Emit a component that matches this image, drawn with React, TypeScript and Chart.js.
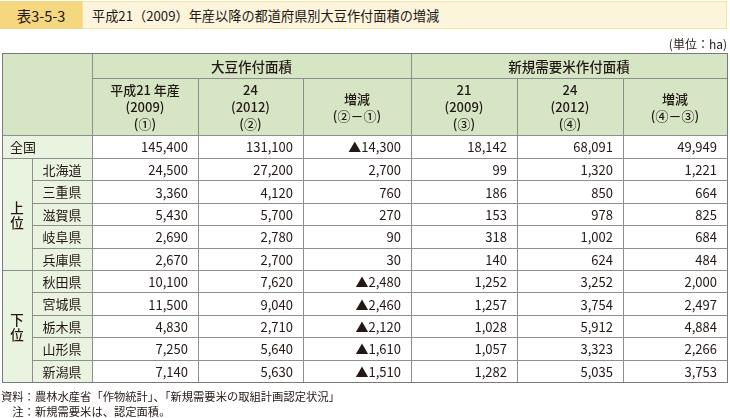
import React, { useEffect, useRef } from 'react';
import { Chart, registerables } from 'chart.js';

Chart.register(...registerables);

// ---------- data ----------
const prefectures = ['北海道', '三重県', '滋賀県', '岐阜県', '兵庫県', '秋田県', '宮城県', '栃木県', '山形県', '新潟県'];
const rankGroups = [
  { label: ['上', '位'], start: 0, end: 5 },
  { label: ['下', '位'], start: 5, end: 10 },
];
const nationalLabel = '全国';
const soy2009 = [24500, 3360, 5430, 2690, 2670, 10100, 11500, 4830, 7250, 7140];
const soy2012 = [27200, 4120, 5700, 2780, 2700, 7620, 9040, 2710, 5640, 5630];
const soyChange = [2700, 760, 270, 90, 30, -2480, -2460, -2120, -1610, -1510];
const rice2009 = [99, 186, 153, 318, 140, 1252, 1257, 1028, 1057, 1282];
const rice2012 = [1320, 850, 978, 1002, 624, 3252, 3754, 5912, 3323, 5035];
const riceChange = [1221, 664, 825, 684, 484, 2000, 2497, 4884, 2266, 3753];
const nationalSoy = [145400, 131100, -14300];
const nationalRice = [18142, 68091, 49949];
const groupHeaders = ['大豆作付面積', '新規需要米作付面積'];
const subHeaders = [
  ['平成21 年産', '(2009)', '(①)'],
  ['24', '(2012)', '(②)'],
  ['増減', '(②－①)'],
  ['21', '(2009)', '(③)'],
  ['24', '(2012)', '(④)'],
  ['増減', '(④－③)'],
];
const titleLabel = '表3-5-3';
const titleText = '平成21（2009）年産以降の都道府県別大豆作付面積の増減';
const unitText = '(単位：ha)';
const notes = ['資料：農林水産省「作物統計」、「新規需要米の取組計画認定状況」', '注：新規需要米は、認定面積。'];

// ---------- layout (not data) ----------
const colWeights = [30, 60, 106, 105, 108, 106, 106, 104];
const rowWeights = [25, 57, 23, 22.4, 22.4, 22.4, 22.4, 22.4, 22.4, 22.4, 22.4, 22.4, 22.4];
const cum = (a: number[]) => a.reduce((acc: number[], v) => { acc.push(acc[acc.length - 1] + v); return acc; }, [0]);
const colEdges = cum(colWeights);
const rowEdges = cum(rowWeights);

const FONT = "'Noto Sans CJK JP', 'Noto Sans', sans-serif";
const TEXT = '#231815';
const HEAD_BG = '#d6e6c5';
const SIDE_BG = '#eaf2e0';
const LINE = '#8e8e8e';

const fmt = (v: number) => (v < 0 ? '▲' : '') + Math.abs(v).toLocaleString('en-US');

const valueColumns = [
  [nationalSoy[0], ...soy2009],
  [nationalSoy[1], ...soy2012],
  [nationalSoy[2], ...soyChange],
  [nationalRice[0], ...rice2009],
  [nationalRice[1], ...rice2012],
  [nationalRice[2], ...riceChange],
];

const tablePlugin = {
  id: 'tableDraw',
  beforeDatasetsDraw(chart: any) {
    const ctx: CanvasRenderingContext2D = chart.ctx;
    const xs = chart.scales.x;
    const ys = chart.scales.y;
    const X = (i: number) => Math.round(xs.getPixelForValue(colEdges[i]));
    const Y = (j: number) => Math.round(ys.getPixelForValue(rowEdges[j]));
    ctx.save();
    // backgrounds
    ctx.fillStyle = '#ffffff';
    ctx.fillRect(X(0), Y(0), X(8) - X(0), Y(13) - Y(0));
    ctx.fillStyle = HEAD_BG;
    ctx.fillRect(X(0), Y(0), X(8) - X(0), Y(2) - Y(0));
    ctx.fillStyle = SIDE_BG;
    ctx.fillRect(X(0), Y(2), X(2) - X(0), Y(13) - Y(2));

    // lines
    ctx.strokeStyle = LINE;
    ctx.lineWidth = 1;
    const h = (j: number, c0: number, c1: number) => {
      const y = Y(j) + 0.5;
      ctx.beginPath(); ctx.moveTo(X(c0), y); ctx.lineTo(X(c1) + 1, y); ctx.stroke();
    };
    const v = (i: number, r0: number, r1: number) => {
      const x = X(i) + 0.5;
      ctx.beginPath(); ctx.moveTo(x, Y(r0)); ctx.lineTo(x, Y(r1) + 1); ctx.stroke();
    };
    h(1, 2, 8);
    h(2, 0, 8);
    h(3, 0, 8);
    for (let j = 4; j <= 12; j++) h(j, j === 8 ? 0 : 1, 8);
    v(1, 3, 13);
    v(2, 0, 13);
    v(3, 1, 13); v(4, 1, 13);
    v(5, 0, 13);
    v(6, 1, 13); v(7, 1, 13);
    ctx.strokeStyle = '#7a7a7a';
    ctx.strokeRect(X(0) + 0.5, Y(0) + 0.5, X(8) - X(0), Y(13) - Y(0));

    // header text
    ctx.fillStyle = TEXT;
    ctx.textBaseline = 'middle';
    ctx.textAlign = 'center';
    ctx.font = `500 13.5px ${FONT}`;
    groupHeaders.forEach((g, k) => {
      const c0 = 2 + k * 3;
      ctx.fillText(g, (X(c0) + X(c0 + 3)) / 2, (Y(0) + Y(1)) / 2 + 1);
    });
    ctx.font = `500 13px ${FONT}`;
    subHeaders.forEach((lines, k) => {
      const cx = (X(2 + k) + X(3 + k)) / 2;
      const cy = (Y(1) + Y(2)) / 2 + 1;
      const lh = 17;
      lines.forEach((t, li) => {
        ctx.fillText(t, cx, cy + (li - (lines.length - 1) / 2) * lh);
      });
    });

    // side labels
    ctx.font = `13px ${FONT}`;
    ctx.textAlign = 'left';
    ctx.fillText(nationalLabel, X(0) + 8, (Y(2) + Y(3)) / 2 + 1);
    ctx.textAlign = 'center';
    prefectures.forEach((p, k) => {
      ctx.fillText(p, (X(1) + X(2)) / 2, (Y(3 + k) + Y(4 + k)) / 2 + 1);
    });
    ctx.font = `500 13.5px ${FONT}`;
    rankGroups.forEach((g) => {
      const cy = (Y(3 + g.start) + Y(3 + g.end)) / 2;
      const cx = (X(0) + X(1)) / 2;
      g.label.forEach((ch, li) => {
        ctx.fillText(ch, cx, cy + (li - (g.label.length - 1) / 2) * 15 + 1);
      });
    });
    ctx.restore();
  },
  afterDatasetsDraw(chart: any) {
    const ctx: CanvasRenderingContext2D = chart.ctx;
    const xs = chart.scales.x;
    ctx.save();
    ctx.fillStyle = TEXT;
    ctx.textBaseline = 'middle';
    ctx.textAlign = 'right';
    ctx.font = `13px ${FONT}`;
    chart.data.datasets.forEach((ds: any, di: number) => {
      const meta = chart.getDatasetMeta(di);
      const right = Math.round(xs.getPixelForValue(colEdges[3 + di])) - 10;
      meta.data.forEach((el: any, k: number) => {
        ctx.fillText(fmt(ds.values[k]), right, el.y + 1);
      });
    });
    ctx.restore();
  },
};

export default function App() {
  const ref = useRef<HTMLCanvasElement | null>(null);
  useEffect(() => {
    document.body.style.margin = '0';
    if (!ref.current) return;
    const rowCenter = (r: number) => (rowEdges[r] + rowEdges[r + 1]) / 2;
    const datasets = valueColumns.map((vals, c) => ({
      label: `col${c}`,
      values: vals,
      data: vals.map((_, k) => ({ x: (colEdges[2 + c] + colEdges[3 + c]) / 2, y: rowCenter(2 + k) })),
      pointRadius: 0,
      showLine: false,
    }));
    const chart = new Chart(ref.current, {
      type: 'scatter',
      data: { datasets: datasets as any },
      options: {
        animation: false,
        responsive: false,
        events: [],
        layout: { padding: { left: 2, right: 3, top: 53, bottom: 36 } },
        scales: {
          x: { type: 'linear', min: 0, max: colEdges[colEdges.length - 1], display: false },
          y: { type: 'linear', min: 0, max: rowEdges[rowEdges.length - 1], reverse: true, display: false },
        },
        plugins: { legend: { display: false }, tooltip: { enabled: false }, title: { display: false } },
      },
      plugins: [tablePlugin],
    });
    return () => chart.destroy();
  }, []);

  const base: React.CSSProperties = { position: 'absolute', fontFamily: FONT, color: TEXT, whiteSpace: 'nowrap' };
  return (
    <div style={{ position: 'relative', width: 730, height: 418, background: '#fff', overflow: 'hidden' }}>
      <canvas ref={ref} width={730} height={418} style={{ position: 'absolute', left: 0, top: 0 }} />
      <div style={{ ...base, left: 0, top: 1, width: 82, height: 28, background: '#f5d780', display: 'flex', alignItems: 'center', justifyContent: 'center', fontSize: 14.5 }}>
        {titleLabel}
      </div>
      <div style={{ ...base, left: 82, top: 1, width: 645, height: 28, boxSizing: 'border-box', background: '#fdf4dc', border: '1.5px solid #f6e3a6', display: 'flex', alignItems: 'center', paddingLeft: 9, fontSize: 13.2 }}>
        {titleText}
      </div>
      <div style={{ ...base, right: 3, top: 35, fontSize: 12, lineHeight: '18px' }}>{unitText}</div>
      <div style={{ ...base, left: 1, top: 389, fontSize: 11.3, lineHeight: '15px' }}>
        <div>{notes[0]}</div>
        <div style={{ paddingLeft: '1em' }}>{notes[1]}</div>
      </div>
    </div>
  );
}
